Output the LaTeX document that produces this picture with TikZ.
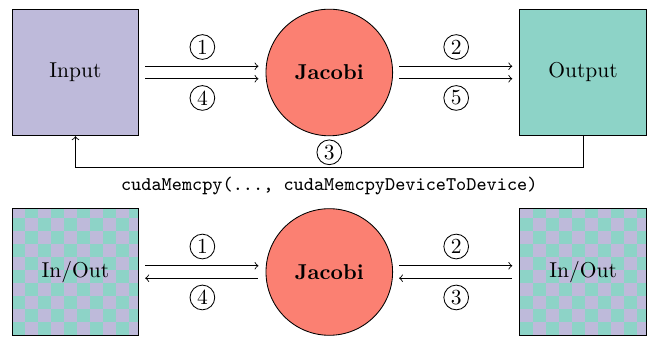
\documentclass[tikz,border=0pt]{standalone}
\definecolor{setpurple}{HTML}{BEBADA}
\definecolor{setgreen}{HTML}{8DD3C7}
\definecolor{setred}{HTML}{FB8072}
\tikzset{
  rect/.style={draw,minimum size=2.07cm,inner sep=0pt,rectangle},
  kernel/.style={draw,fill=setred,minimum size=2.07cm,inner sep=0pt,circle,font=\bfseries},
  mixed/.style={
    rect,
    path picture={
      \fill[setgreen] (path picture bounding box.south west) rectangle (path picture bounding box.north east);
      \foreach \i in {0,...,9} \foreach \j in {0,...,9} {
        \pgfmathtruncatemacro\k{mod(\i+\j,2)}
        \ifnum\k=1
          \fill[setpurple] ([xshift=\i*0.2125cm,yshift=\j*0.2125cm]path picture bounding box.south west) rectangle ++(0.2125,0.2125);
        \fi
      }
    }
  },
  num/.style={draw,circle,inner sep=0pt,minimum size=11.5pt},
  pair/.style={shorten <=2.8pt,shorten >=3.3pt},
}

\begin{document}
\begin{tikzpicture}[auto,node distance=4.15cm]
\useasboundingbox (-1.234,1.185) rectangle (9.361,-4.309);

\node[rect,fill=setpurple](input) {Input};
\node[kernel, right of=input](jacobi) {Jacobi};
\node[rect,fill=setgreen, right of=jacobi](output) {Output};
\node[mixed, yshift=0.888cm, below of=input](inout) {In/Out};
\node[kernel, right of=inout](jacobib) {Jacobi};
\node[mixed, right of=jacobib](inoutb) {In/Out};

\draw [->,pair] ([yshift=2.9pt]input.east) -- ([yshift=2.9pt]jacobi.west)
             node[num,midway,above=3pt]{1};
\draw [->,pair] ([yshift=-2.9pt]input.east) -- ([yshift=-2.9pt]jacobi.west)
             node[num,midway,below=3pt]{4};
\draw [->,pair] ([yshift=2.9pt]jacobi.east) -- ([yshift=2.9pt]output.west)
             node[num,midway,above=3pt]{2};
\draw [->,pair] ([yshift=-2.9pt]jacobi.east) -- ([yshift=-2.9pt]output.west)
             node[num,midway,below=3pt]{5};

\draw [->] (output.south) -- ++(0,-0.507) -| (input.south)
             node[num,pos=0.25,above=1pt]{3}
             node[pos=0.25,below=1pt,font=\small\ttfamily]{cudaMemcpy(..., cudaMemcpyDeviceToDevice)};

\draw [->,pair] ([yshift=2.9pt]inout.east) -- ([yshift=2.9pt]jacobib.west)
             node[num,midway,above=3pt]{1};
\draw [<-,pair] ([yshift=-2.9pt]inout.east) -- ([yshift=-2.9pt]jacobib.west)
             node[num,midway,below=3pt]{4};
\draw [->,pair] ([yshift=2.9pt]jacobib.east) -- ([yshift=2.9pt]inoutb.west)
             node[num,midway,above=3pt]{2};
\draw [<-,pair] ([yshift=-2.9pt]jacobib.east) -- ([yshift=-2.9pt]inoutb.west)
             node[num,midway,below=3pt]{3};
\end{tikzpicture}
\end{document}
